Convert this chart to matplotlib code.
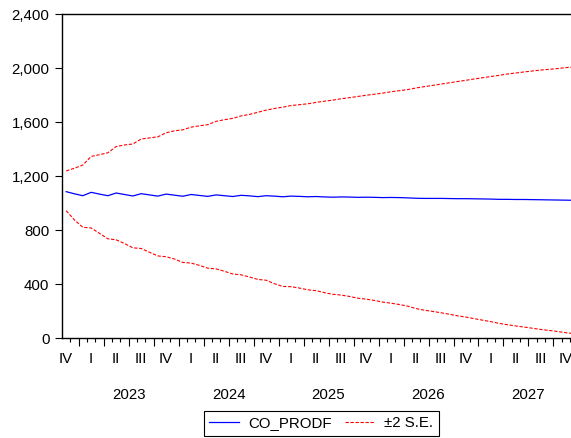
import numpy as np
import matplotlib
matplotlib.use('Agg')
import matplotlib.pyplot as plt
from matplotlib.ticker import FuncFormatter, FixedLocator

plt.rcParams['font.family'] = ['Liberation Sans', 'DejaVu Sans']
plt.rcParams['font.size'] = 10.8

# monthly forecast, 2022M11 .. 2027M12
forecast = [1084, 1068, 1054, 1079, 1066, 1054, 1074, 1063, 1052, 1069,
            1060, 1051, 1066, 1058, 1050, 1063, 1056, 1049, 1060, 1054,
            1048, 1057, 1053, 1047, 1054, 1051, 1046, 1051, 1049, 1046,
            1048, 1045, 1043, 1045, 1044, 1042, 1043, 1042, 1040, 1041,
            1040, 1038, 1035, 1034, 1034, 1034, 1033, 1032, 1032, 1031,
            1030, 1029, 1027, 1027, 1026, 1026, 1025, 1024, 1023, 1022,
            1021, 1020]
upper = [1237, 1258, 1281, 1345, 1358, 1372, 1418, 1430, 1437, 1474,
         1482, 1490, 1520, 1535, 1542, 1562, 1572, 1580, 1605, 1617,
         1627, 1645, 1656, 1672, 1688, 1700, 1710, 1722, 1728, 1735,
         1745, 1754, 1762, 1772, 1780, 1789, 1798, 1806, 1814, 1824,
         1832, 1840, 1852, 1862, 1871, 1881, 1890, 1900, 1909, 1919,
         1928, 1937, 1946, 1956, 1963, 1971, 1978, 1985, 1990, 1996,
         2003, 2008]
lower = [943, 874, 820, 815, 775, 735, 727, 700, 668, 663,
         635, 608, 602, 585, 560, 555, 538, 517, 512, 494,
         474, 468, 452, 434, 428, 402, 382, 380, 370, 357,
         351, 336, 324, 318, 308, 295, 288, 278, 266, 258,
         248, 236, 218, 206, 197, 187, 176, 164, 155, 143,
         132, 121, 108, 98, 89, 81, 72, 63, 56, 48,
         39, 32]

quarter_labels = ['IV'] + ['I', 'II', 'III', 'IV'] * 5
years = ['2023', '2024', '2025', '2026', '2027']

n = len(forecast)
x = np.arange(n) + 0.5          # month centres, axis starts at 2022M11
q_start = np.arange(-1, n, 3)   # quarter boundaries (Oct 2022 = -1)

W, H = 571, 438
fig = plt.figure(figsize=(W / 100, H / 100), dpi=100)
mw = 8.33
ax = fig.add_axes([62 / W, 100 / H, n * mw / W, 324 / H])

ax.plot(x, forecast, color='#0000ff', lw=0.9, label='CO_PRODF')
ax.plot(x, upper, color='#ff0000', lw=0.8, ls=(0, (3, 1.5)), label='\u00b12 S.E.')
ax.plot(x, lower, color='#ff0000', lw=0.8, ls=(0, (3, 1.5)))

ax.set_xlim(0, n)
ax.set_ylim(0, 2400)
ax.set_yticks(np.arange(0, 2401, 400))
ax.yaxis.set_major_formatter(FuncFormatter(lambda v, p: '{:,.0f}'.format(v)))
ax.tick_params(axis='y', direction='out', length=5, width=0.8, pad=4, colors='black')

ax.xaxis.set_major_locator(FixedLocator(q_start[q_start > 0]))
ax.xaxis.set_minor_locator(FixedLocator(np.arange(1, n)))
ax.tick_params(axis='x', which='major', direction='out', length=6, width=0.8, labelbottom=False)
ax.tick_params(axis='x', which='minor', direction='out', length=3, width=0.8)
ax.spines['right'].set_visible(False)
for s in ['left', 'top', 'bottom']:
    ax.spines[s].set_linewidth(1.0)

# quarter labels
sq = ax.secondary_xaxis('bottom')
sq.set_xticks(q_start + 1.5, quarter_labels)
sq.tick_params(length=0, pad=10)
sq.spines['bottom'].set_visible(False)

# year labels
sy = ax.secondary_xaxis('bottom')
sy.set_xticks(np.arange(8, n, 12), years)
sy.tick_params(length=0, pad=36)
sy.spines['bottom'].set_visible(False)

leg = fig.legend(loc='upper left', bbox_to_anchor=(204 / W, 1 - 411 / H), ncol=2,
                 frameon=True, fancybox=False, edgecolor='black', framealpha=1,
                 handlelength=2.0, columnspacing=0.9, handletextpad=0.6,
                 borderpad=0.35, borderaxespad=0)
leg.get_frame().set_linewidth(0.8)

fig.savefig('out.png', dpi=100)
